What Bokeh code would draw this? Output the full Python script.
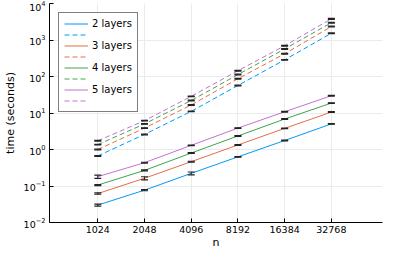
from bokeh.plotting import figure
from bokeh.models import (Range1d, FixedTicker, NumeralTickFormatter, Legend,
                          LegendItem, ColumnDataSource)
from bokeh.embed import file_html
from bokeh.resources import INLINE

# ---- data ----
n = [1024, 2048, 4096, 8192, 16384, 32768]
layers = ["2 layers", "3 layers", "4 layers", "5 layers"]

solid_2 = [0.030, 0.077, 0.222, 0.628, 1.76, 5.03]
solid_3 = [0.062, 0.163, 0.464, 1.33, 3.79, 10.6]
solid_4 = [0.106, 0.268, 0.80, 2.35, 6.83, 18.7]
solid_5 = [0.18, 0.436, 1.30, 3.86, 10.8, 29.8]

dash_2 = [0.667, 2.59, 11.1, 56.8, 286, 1528]
dash_3 = [1.0, 3.86, 16.6, 86.9, 420, 2335]
dash_4 = [1.36, 5.04, 22.0, 113, 569, 2976]
dash_5 = [1.73, 6.15, 28.6, 144, 695, 3793]

err_solid_2 = [0.0018, 0.003, 0.02, 0.012, 0.04, 0.10]
err_solid_3 = [0.0025, 0.016, 0.012, 0.03, 0.08, 0.25]
err_solid_4 = [0.004, 0.008, 0.02, 0.05, 0.15, 0.4]
err_solid_5 = [0.018, 0.012, 0.03, 0.08, 0.25, 0.7]

err_dash_2 = [0.015, 0.06, 0.25, 1.3, 6, 40]
err_dash_3 = [0.02, 0.08, 0.35, 2.0, 9, 60]
err_dash_4 = [0.03, 0.1, 0.45, 2.5, 12, 80]
err_dash_5 = [0.04, 0.12, 0.6, 3.0, 15, 100]

x_ticks = [1024, 2048, 4096, 8192, 16384, 32768]
y_ticks = [1e-2, 1e-1, 1e0, 1e1, 1e2, 1e3, 1e4]

colors = ["#009AFA", "#E36F47", "#3EA44E", "#C371D2"]
solids = [solid_2, solid_3, solid_4, solid_5]
dashes = [dash_2, dash_3, dash_4, dash_5]
err_solids = [err_solid_2, err_solid_3, err_solid_4, err_solid_5]
err_dashes = [err_dash_2, err_dash_3, err_dash_4, err_dash_5]

FONT = "DejaVu Sans"

p = figure(width=384, height=251, x_axis_type="log", y_axis_type="log",
           x_range=Range1d(500, 70000), y_range=Range1d(1e-2, 1e4),
           output_backend="svg", toolbar_location=None,
           min_border_top=3, min_border_right=2, min_border_left=0,
           min_border_bottom=0)
p.outline_line_color = None
p.background_fill_color = "white"
p.border_fill_color = "white"

for ax in (p.xaxis[0], p.yaxis[0]):
    ax.major_tick_in = 4
    ax.major_tick_out = 0
    ax.minor_tick_line_color = None
    ax.axis_line_color = "black"
    ax.major_tick_line_color = "black"
    ax.major_label_text_font = FONT
    ax.major_label_text_font_size = "9.5px"
    ax.major_label_text_color = "black"
    ax.axis_label_text_font = FONT
    ax.axis_label_text_font_size = "11px"
    ax.axis_label_text_font_style = "normal"
    ax.axis_label_text_color = "black"

p.xaxis.major_label_standoff = 3
p.xaxis.axis_label_standoff = 0
p.xaxis.axis_label_text_line_height = 0.8
p.yaxis.major_label_standoff = 4
p.yaxis.axis_label_standoff = 4

p.xaxis.ticker = FixedTicker(ticks=x_ticks)
p.xaxis.formatter = NumeralTickFormatter(format="0")
p.yaxis.ticker = FixedTicker(ticks=y_ticks)
p.xaxis.axis_label = "n"
p.yaxis.axis_label = "time (seconds)"

p.xgrid.ticker = FixedTicker(ticks=x_ticks)
p.ygrid.ticker = FixedTicker(ticks=y_ticks)
for g in (p.xgrid[0], p.ygrid[0]):
    g.grid_line_color = "#ebebeb"
    g.grid_line_width = 1
    g.minor_grid_line_color = None

items = []
for i in range(4):
    r_s = p.line(n, solids[i], line_color=colors[i], line_width=1)
    r_d = p.line(n, dashes[i], line_color=colors[i], line_width=1,
                 line_dash="5 3")
    items.append(LegendItem(label=layers[i], renderers=[r_s]))
    items.append(LegendItem(label=" ", renderers=[r_d]))

# error bars
for vals_list, errs_list in ((solids, err_solids), (dashes, err_dashes)):
    for vals, errs in zip(vals_list, errs_list):
        lo = [v - e for v, e in zip(vals, errs)]
        hi = [v + e for v, e in zip(vals, errs)]
        src = ColumnDataSource(dict(x=n, lo=lo, hi=hi))
        p.segment(x0="x", y0="lo", x1="x", y1="hi", source=src,
                  line_color="#222222", line_width=1)
        p.scatter(x="x", y="lo", source=src, marker="dash", size=7,
                  line_color="#222222", line_width=1.2)
        p.scatter(x="x", y="hi", source=src, marker="dash", size=7,
                  line_color="#222222", line_width=1.2)

legend = Legend(items=items, location="top_left")
legend.margin = 9
legend.padding = 5
legend.spacing = 0
legend.glyph_width = 24
legend.glyph_height = 11
legend.label_height = 11
legend.label_standoff = 4
legend.label_text_font = FONT
legend.label_text_font_size = "10px"
legend.label_text_color = "black"
legend.border_line_color = "black"
legend.border_line_width = 1
legend.background_fill_alpha = 1
p.add_layout(legend)

open("out.html", "w").write(file_html(p, INLINE))
